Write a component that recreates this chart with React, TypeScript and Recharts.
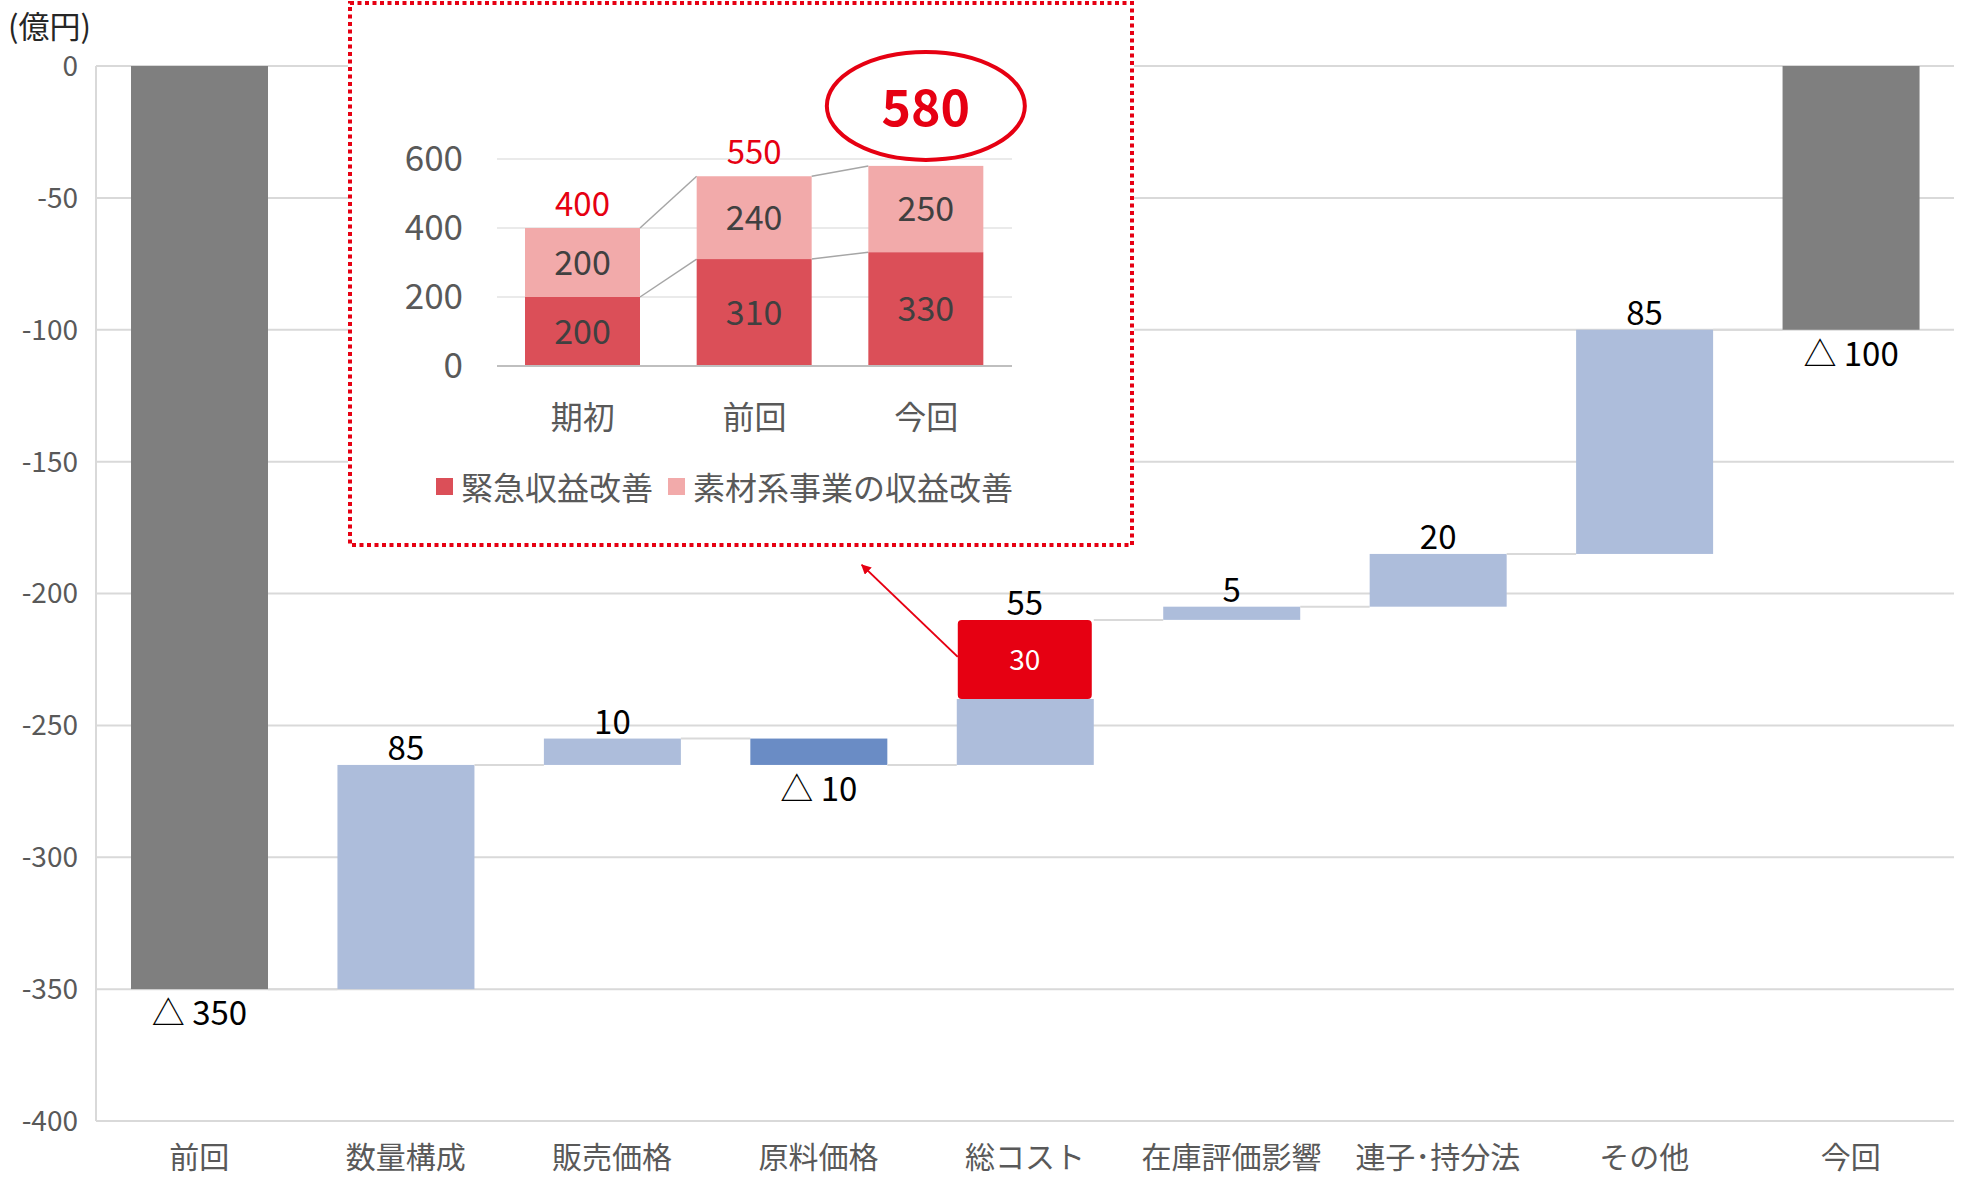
import {
  ComposedChart,
  BarChart,
  Bar,
  XAxis,
  YAxis,
  CartesianGrid,
  LabelList,
} from 'recharts';

const FONT = '"Noto Sans CJK JP", "Noto Sans", sans-serif';

// main waterfall (億円)
const categories = ['前回', '数量構成', '販売価格', '原料価格', '総コスト', '在庫評価影響', '連子･持分法', 'その他', '今回'];
const changes = [-350, 85, 10, -10, 55, 5, 20, 85, -100];
const kinds = ['total', 'up', 'up', 'down', 'up', 'up', 'up', 'up', 'total'];
const urgentPart = [0, 0, 0, 0, 30, 0, 0, 0, 0];
const yTicks = [0, -50, -100, -150, -200, -250, -300, -350, -400];

// inset: 収益改善の内訳
const insetCats = ['期初', '前回', '今回'];
const urgentVals = [200, 310, 330];
const materialVals = [200, 240, 250];
const insetTotals = [400, 550, 580];
const insetTicks = [0, 200, 400, 600];

const W = 1964;
const H = 1179;
const Y_AXIS_W = 96;
const M_RIGHT = 10;
const CAT_W = (W - Y_AXIS_W - M_RIGHT) / categories.length;

const IN_W = 786;
const IN_H = 546;
const IN_Y_W = 149;
const IN_RIGHT = 122;
const IN_CAT_W = (IN_W - IN_Y_W - IN_RIGHT) / insetCats.length;

const COLORS: Record<string, string> = {
  total: '#7F7F7F',
  up: '#ADBDDB',
  down: '#6A8CC5',
};

let running = 0;
const rows = categories.map((name, i) => {
  const v = changes[i];
  let start: number;
  let end: number;
  if (kinds[i] === 'total') {
    start = 0;
    end = v;
  } else {
    start = running;
    end = running + v;
  }
  running = end;
  const red = urgentPart[i];
  const mainEnd = end - (v >= 0 ? red : -red);
  const lo = Math.min(start, mainEnd);
  const hi = Math.max(start, mainEnd);
  return {
    name,
    kind: kinds[i],
    change: v,
    end,
    lo,
    hi,
    range: [lo, hi],
    red: red ? [mainEnd, end] : null,
    redValue: red,
  };
});

const insetData = insetCats.map((name, i) => ({
  name,
  urgent: urgentVals[i],
  material: materialVals[i],
  total: insetTotals[i],
}));

const fmt = (v: number) => (v < 0 ? `△ ${Math.abs(v)}` : `${v}`);

function box(props: any) {
  const vb = props.viewBox || props;
  const y = vb.y;
  const h = vb.height;
  return {
    x: vb.x,
    width: vb.width,
    top: Math.min(y, y + h),
    bottom: Math.max(y, y + h),
  };
}

function WaterfallBar(props: any) {
  const { x, y, width, height, index } = props;
  const row = rows[index];
  if (!row || width == null) return null;
  const top = Math.min(y, y + height);
  const h = Math.abs(height);
  const ppu = h / (row.hi - row.lo);
  const ly = top + (row.hi - row.end) * ppu;
  return (
    <g>
      <rect x={x} y={top} width={width} height={h} fill={COLORS[row.kind]} />
      {index < rows.length - 1 && (
        <line x1={x + width} x2={x + CAT_W} y1={ly} y2={ly} stroke="#D9D9D9" strokeWidth={2} />
      )}
    </g>
  );
}

function UrgentBar(props: any) {
  const { x, y, width, height } = props;
  if (width == null || !height) return null;
  const top = Math.min(y, y + height);
  const h = Math.abs(height);
  const sx = x;
  const sy = top + 37;
  return (
    <g>
      <defs>
        <marker id="arrowHead" viewBox="0 0 10 10" refX="9" refY="5" markerWidth="5" markerHeight="5" orient="auto">
          <path d="M0,0 L10,5 L0,10 z" fill="#E60012" />
        </marker>
      </defs>
      <rect x={x} y={top} width={width} height={h} rx={4} ry={4} fill="#E60012" />
      <line x1={sx} y1={sy} x2={sx - 96} y2={sy - 92} stroke="#E60012" strokeWidth={2} markerEnd="url(#arrowHead)" />
    </g>
  );
}

function mainLabel(props: any) {
  const row = rows[props.index];
  if (!row || row.redValue) return null;
  const b = box(props);
  const cx = b.x + b.width / 2;
  const above = row.kind === 'up';
  return (
    <text
      x={cx}
      y={above ? b.top - 5 : b.bottom + 36}
      textAnchor="middle"
      fill="#000"
      fontSize={33}
      fontFamily={FONT}
    >
      {fmt(row.change)}
    </text>
  );
}

function urgentLabel(props: any) {
  const byIndex = rows[props.index];
  const row = byIndex && byIndex.redValue ? byIndex : rows.find((r) => r.redValue);
  if (!row) return null;
  const b = box(props);
  if (b.width == null || isNaN(b.top)) return null;
  const cx = b.x + b.width / 2;
  return (
    <g>
      <text x={cx} y={b.top - 5} textAnchor="middle" fill="#000" fontSize={33} fontFamily={FONT}>
        {fmt(row.change)}
      </text>
      <text
        x={cx}
        y={(b.top + b.bottom) / 2}
        dy="0.36em"
        textAnchor="middle"
        fill="#fff"
        fontSize={28}
        fontFamily={FONT}
      >
        {row.redValue}
      </text>
    </g>
  );
}

function makeSegment(values: number[], cum: number[], fill: string) {
  return (props: any) => {
    const { x, y, width, height, index } = props;
    if (width == null || !height) return null;
    const ppu = height / values[index];
    const hasNext = index < cum.length - 1;
    const ny = hasNext ? y + (cum[index] - cum[index + 1]) * ppu : y;
    return (
      <g>
        <rect x={x} y={y} width={width} height={height} fill={fill} />
        {hasNext && (
          <line x1={x + width} y1={y} x2={x + IN_CAT_W} y2={ny} stroke="#A6A6A6" strokeWidth={1.5} />
        )}
      </g>
    );
  };
}

const UrgentSeg = makeSegment(urgentVals, urgentVals, '#DB4F58');
const MaterialSeg = makeSegment(materialVals, insetTotals, '#F2AAAA');

function totalLabel(props: any) {
  const i = props.index;
  const b = box(props);
  const cx = b.x + b.width / 2;
  if (i === insetTotals.length - 1) {
    return (
      <g>
        <ellipse cx={cx} cy={b.top - 60} rx={99} ry={54} fill="none" stroke="#E60012" strokeWidth={4} />
        <text
          x={cx}
          y={b.top - 40}
          textAnchor="middle"
          fill="#E60012"
          fontSize={50}
          fontWeight="bold"
          fontFamily={FONT}
        >
          {insetTotals[i]}
        </text>
      </g>
    );
  }
  return (
    <text x={cx} y={b.top - 12} textAnchor="middle" fill="#E60012" fontSize={33} fontFamily={FONT}>
      {insetTotals[i]}
    </text>
  );
}

function InsetLegend() {
  const items = [
    { label: '緊急収益改善', color: '#DB4F58' },
    { label: '素材系事業の収益改善', color: '#F2AAAA' },
  ];
  return (
    <div
      style={{
        position: 'absolute',
        left: 88,
        top: 465,
        display: 'flex',
        alignItems: 'center',
        gap: 15,
        fontFamily: FONT,
        fontSize: 32,
        color: '#595959',
        lineHeight: '40px',
      }}
    >
      {items.map((it) => (
        <span key={it.label} style={{ display: 'flex', alignItems: 'center', gap: 8 }}>
          <span style={{ width: 17, height: 17, background: it.color, display: 'inline-block' }} />
          {it.label}
        </span>
      ))}
    </div>
  );
}

export default function App() {
  return (
    <div style={{ position: 'absolute', left: 0, top: 0, width: W, height: H, background: '#fff', fontFamily: FONT }}>
      <div style={{ position: 'absolute', left: 8, top: 2, fontSize: 31, color: '#262626' }}>(億円)</div>
      <ComposedChart width={W} height={H} data={rows} margin={{ top: 66, right: M_RIGHT, left: 0, bottom: 0 }}>
        <CartesianGrid xAxisId="main" vertical={false} stroke="#D9D9D9" strokeWidth={2} />
        <XAxis
          xAxisId="main"
          dataKey="name"
          height={58}
          tickLine={false}
          tickSize={0}
          tickMargin={26}
          axisLine={{ stroke: '#D9D9D9', strokeWidth: 2 }}
          tick={{ fill: '#595959', fontSize: 30, fontFamily: FONT }}
          interval={0}
        />
        <XAxis xAxisId="over" dataKey="name" hide />
        <YAxis
          width={Y_AXIS_W}
          domain={[-400, 0]}
          ticks={yTicks}
          tickLine={false}
          tickSize={0}
          tickMargin={18}
          axisLine={{ stroke: '#D9D9D9', strokeWidth: 2 }}
          tick={{ fill: '#595959', fontSize: 28, fontFamily: FONT }}
          allowDataOverflow
        />
        <Bar xAxisId="main" dataKey="range" barSize={137} shape={WaterfallBar} isAnimationActive={false}>
          <LabelList dataKey="range" content={mainLabel} />
        </Bar>
        <Bar xAxisId="over" dataKey="red" barSize={134} shape={UrgentBar} isAnimationActive={false}>
          <LabelList dataKey="red" content={urgentLabel} />
        </Bar>
      </ComposedChart>

      <div style={{ position: 'absolute', left: 348, top: 1, width: IN_W, height: IN_H, background: '#fff' }}>
        <svg width={IN_W} height={IN_H} style={{ position: 'absolute', left: 0, top: 0 }}>
          <rect
            x={2}
            y={2}
            width={IN_W - 4}
            height={IN_H - 4}
            fill="none"
            stroke="#E60012"
            strokeWidth={4}
            strokeDasharray="4 3.5"
          />
        </svg>
        <div style={{ position: 'absolute', left: 0, top: 0 }}>
          <BarChart
            width={IN_W}
            height={IN_H}
            data={insetData}
            margin={{ top: 158, right: IN_RIGHT, left: 0, bottom: 121 }}
          >
            <CartesianGrid vertical={false} stroke="#E3E3E3" strokeWidth={1.5} />
            <XAxis
              dataKey="name"
              height={60}
              tickLine={false}
              tickSize={0}
              tickMargin={40}
              axisLine={{ stroke: '#BFBFBF', strokeWidth: 2 }}
              tick={{ fill: '#595959', fontSize: 32, fontFamily: FONT }}
            />
            <YAxis
              width={IN_Y_W}
              domain={[0, 600]}
              ticks={insetTicks}
              tickLine={false}
              tickSize={0}
              tickMargin={34}
              axisLine={false}
              tick={{ fill: '#595959', fontSize: 35, fontFamily: FONT }}
            />
            <Bar dataKey="urgent" stackId="s" barSize={115} shape={UrgentSeg} isAnimationActive={false}>
              <LabelList dataKey="urgent" position="center" fill="#404040" fontSize={34} fontFamily={FONT} />
            </Bar>
            <Bar dataKey="material" stackId="s" barSize={115} shape={MaterialSeg} isAnimationActive={false}>
              <LabelList dataKey="material" position="center" fill="#404040" fontSize={34} fontFamily={FONT} />
              <LabelList dataKey="total" content={totalLabel} />
            </Bar>
          </BarChart>
        </div>
        <InsetLegend />
      </div>
    </div>
  );
}
